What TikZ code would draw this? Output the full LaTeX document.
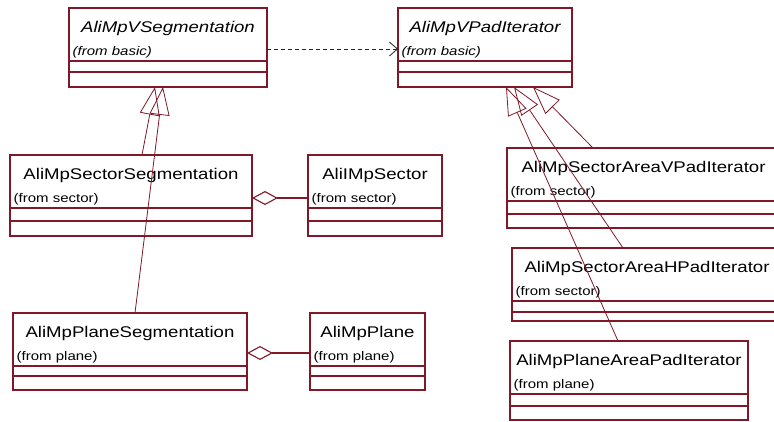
\documentclass[tikz,border=0pt]{standalone}
\usepackage{fontspec}
\setmainfont{Liberation Sans}
\newfontfamily\umlfont[FakeStretch=1.2]{Liberation Sans}
\usetikzlibrary{arrows.meta,calc}
\definecolor{umlred}{RGB}{128,24,40}
\tikzset{
  classbox/.style={draw=umlred, line width=1.1pt, rectangle, inner sep=0pt, outer sep=0pt, anchor=north west},
  comp/.style={draw=umlred, line width=1.1pt},
  titletext/.style={font=\umlfont\fontsize{15.5}{18}\selectfont, anchor=base, inner sep=0pt, text=black},
  fromtext/.style={font=\umlfont\fontsize{12.5}{14}\selectfont, anchor=base west, inner sep=0pt, text=black},
  gen/.style={draw=umlred, line width=0.8pt, -{Triangle[open, length=28pt, width=20pt]}},
  agg/.style={draw=umlred, line width=1.1pt, -{Diamond[open, length=26pt, width=14pt]}},
  dep/.style={draw=black!85, line width=0.8pt, dash pattern=on 4pt off 3pt, -{Straight Barb[length=8pt, width=14pt]}},
}
% #1 name, #2 x1, #3 y1, #4 x2, #5 y2, #6 title, #7 from, #8 shape, #9 second line offset
\newcommand\umlclass[9]{%
  \node[classbox, minimum width={#4-#2}, minimum height={#5-#3}] (#1) at (#2,#3) {};
  \draw[comp] ($(#1.north west)+(0,53)$) -- ($(#1.north east)+(0,53)$);
  \draw[comp] ($(#1.north west)+(0,#9)$) -- ($(#1.north east)+(0,#9)$);
  \node[titletext] (#1-t) at ($(#1.north)+(0,24)$) {#8#6};
  \node[fromtext] (#1-f) at ($(#1.north west)+(3.5,47)$) {#8#7};
}
\begin{document}
\begin{tikzpicture}[x=1pt,y=-1pt]
\useasboundingbox (0,0) rectangle (774,421);
\clip (0,0) rectangle (774,421);
\fill[white] (0,0) rectangle (774,421);

\umlclass{vseg}{69}{8}{267}{87}{AliMpVSegmentation}{(from basic)}{\itshape}{64}
\umlclass{vpad}{398}{8}{572}{87}{AliMpVPadIterator}{(from basic)}{\itshape}{64}
\umlclass{secseg}{10}{155}{252}{236}{AliMpSectorSegmentation}{(from sector)}{}{66}
\umlclass{sector}{308}{155}{442}{236}{AliIMpSector}{(from sector)}{}{66}
\umlclass{planeseg}{13}{313}{247}{390}{AliMpPlaneSegmentation}{(from plane)}{}{63}
\umlclass{plane}{310}{313}{425}{390}{AliMpPlane}{(from plane)}{}{63}
\umlclass{sav}{507}{148}{780}{228}{AliMpSectorAreaVPadIterator}{(from sector)}{}{66}
\umlclass{sah}{512}{248}{782}{321}{AliMpSectorAreaHPadIterator}{(from sector)}{}{64}
\umlclass{pap}{510}{341}{748}{420}{AliMpPlaneAreaPadIterator}{(from plane)}{}{65}

% connector end points
\coordinate (vsegA) at (155,87);
\coordinate (vsegB) at (163,87);
\coordinate (secsegTop) at (142,155);
\coordinate (planesegTop) at (135,313);
\coordinate (vpadA) at (506,87);
\coordinate (vpadB) at (514,87);
\coordinate (vpadC) at (533,87);
\coordinate (savTop) at (593,148);
\coordinate (sahTop) at (623,248);
\coordinate (papTop) at (618,341);
\coordinate (vsegR) at ($(vseg.north east)+(0,41)$);
\coordinate (vpadL) at ($(vpad.north west)+(0,41)$);
\coordinate (secsegR) at ($(secseg.north east)+(0,43)$);
\coordinate (sectorL) at ($(sector.north west)+(0,43)$);
\coordinate (planesegR) at ($(planeseg.north east)+(0,40)$);
\coordinate (planeL) at ($(plane.north west)+(0,40)$);

\draw[dep] (vsegR) -- (vpadL);
\draw[gen] (secsegTop) -- (vsegA);
\draw[gen] (planesegTop) -- (vsegB);
\draw[gen] (papTop) -- (vpadA);
\draw[gen] (sahTop) -- (vpadB);
\draw[gen] (savTop) -- (vpadC);
\draw[agg] (sectorL) -- (secsegR);
\draw[agg] (planeL) -- (planesegR);
\end{tikzpicture}
\end{document}
